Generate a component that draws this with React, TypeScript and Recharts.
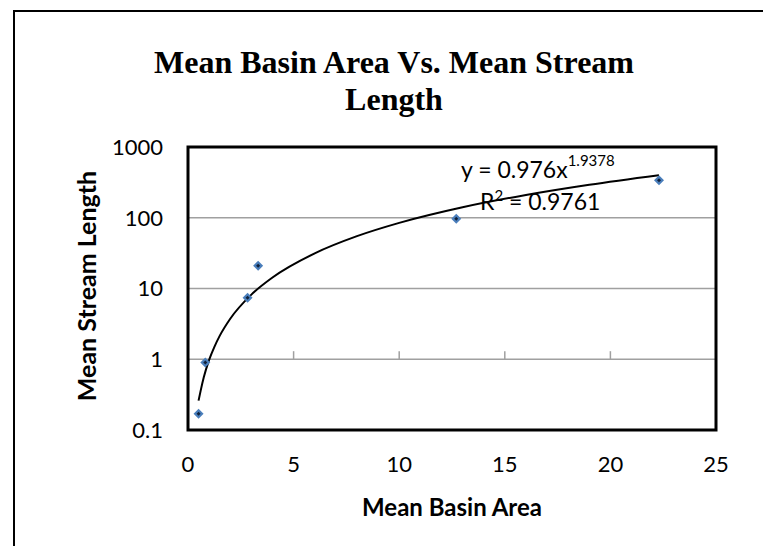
import React from "react";
import {
  CartesianGrid,
  ComposedChart,
  Line,
  ReferenceArea,
  ReferenceLine,
  Scatter,
  XAxis,
  YAxis,
} from "recharts";

// observed basins: mean basin area vs mean stream length
const basinArea = [0.5, 0.82, 2.82, 3.32, 12.7, 22.3];
const streamLength = [0.17, 0.9, 7.4, 21, 97, 340];

// power trendline
const trendArea = [0.5, 0.6, 0.75, 1, 1.25, 1.5, 2, 3, 4, 6, 8, 10, 13, 16, 19, 22.3];
const trendLength = [0.26, 0.36, 0.56, 0.98, 1.5, 2.14, 3.74, 8.2, 14.3, 31.4, 54.9, 84.6, 140.6, 210, 293, 400];

const xTicks = [0, 5, 10, 15, 20, 25];
const yTicks = [0.1, 1, 10, 100, 1000];
const axisTickMarks = [5, 10, 15, 20];

const points = basinArea.map((x, i) => ({ x, y: streamLength[i] }));
const trend = trendArea.map((x, i) => ({ x, y: trendLength[i] }));

const FONT = "Lato, 'Open Sans', sans-serif";

const Diamond = (props: any) => {
  const { cx, cy } = props;
  if (cx == null || cy == null) return null;
  return (
    <g>
      <path d={`M${cx},${cy - 5} L${cx + 5},${cy} L${cx},${cy + 5} L${cx - 5},${cy} Z`} fill="#4A7EBB" />
      <path d={`M${cx},${cy - 2} L${cx + 2},${cy} L${cx},${cy + 2} L${cx - 2},${cy} Z`} fill="#10213a" />
    </g>
  );
};

export default function App() {
  return (
    <div style={{ position: "absolute", left: 0, top: 0, width: 763, height: 546, background: "#fff", overflow: "hidden" }}>
      <div
        style={{
          position: "absolute",
          left: 13,
          top: 10,
          width: 800,
          height: 600,
          borderTop: "2px solid #000",
          borderLeft: "2px solid #000",
        }}
      />
      <div
        style={{
          position: "absolute",
          left: 0,
          top: 44,
          width: 788,
          textAlign: "center",
          fontFamily: "'Liberation Serif', serif",
          fontWeight: "bold",
          fontSize: 32,
          lineHeight: "37px",
        }}
      >
        Mean Basin Area Vs. Mean Stream
        <br />
        Length
      </div>

      <ComposedChart
        width={763}
        height={546}
        margin={{ top: 147, right: 47, bottom: 76, left: 128 }}
        style={{ position: "absolute", left: 0, top: 0 }}
      >
        <CartesianGrid horizontal vertical={false} stroke="#a0a0a0" strokeWidth={1.5} />
        <XAxis
          type="number"
          dataKey="x"
          domain={[0, 25]}
          ticks={xTicks}
          axisLine={false}
          tickLine={false}
          tickSize={0}
          tickMargin={26}
          height={40}
          tick={{ fill: "#000", fontSize: 22, fontFamily: FONT }}
        />
        <YAxis
          type="number"
          dataKey="y"
          scale="log"
          domain={[0.1, 1000]}
          ticks={yTicks}
          allowDataOverflow
          axisLine={false}
          tickLine={false}
          tickSize={0}
          tickMargin={25}
          width={60}
          tick={{ fill: "#000", fontSize: 22, fontFamily: FONT }}
        />
        {axisTickMarks.map((t) => (
          <ReferenceLine
            key={t}
            segment={[
              { x: t, y: 1 },
              { x: t, y: 1.3 },
            ]}
            stroke="#a0a0a0"
            strokeWidth={1.5}
          />
        ))}
        <Line
          data={trend}
          dataKey="y"
          type="monotone"
          stroke="#000"
          strokeWidth={2}
          dot={false}
          isAnimationActive={false}
        />
        <Scatter data={points} dataKey="y" shape={<Diamond />} isAnimationActive={false} />
        <ReferenceArea x1={0} x2={25} y1={0.1} y2={1000} fill="none" stroke="#000" strokeWidth={3} ifOverflow="visible" />
      </ComposedChart>

      <div style={{ position: "absolute", left: 461, top: 155, lineHeight: "28px", fontFamily: FONT, fontSize: 23, whiteSpace: "nowrap" }}>
        y = 0.976x<sup style={{ fontSize: 15, lineHeight: "15px", verticalAlign: "top", position: "relative", top: -2 }}>1.9378</sup>
      </div>
      <div style={{ position: "absolute", left: 480, top: 187, lineHeight: "28px", fontFamily: FONT, fontSize: 23, whiteSpace: "nowrap" }}>
        R<sup style={{ fontSize: 15, lineHeight: "15px", verticalAlign: "top", position: "relative", top: 1 }}>2</sup> = 0.9761
      </div>

      <div
        style={{
          position: "absolute",
          left: 452 - 150,
          top: 492,
          width: 300,
          textAlign: "center",
          fontFamily: FONT,
          fontWeight: "bold",
          fontSize: 24,
        }}
      >
        Mean Basin Area
      </div>
      <div
        style={{
          position: "absolute",
          left: 86 - 150,
          top: 286 - 15,
          width: 300,
          height: 30,
          lineHeight: "30px",
          textAlign: "center",
          fontFamily: FONT,
          fontWeight: "bold",
          fontSize: 25,
          transform: "rotate(-90deg)",
        }}
      >
        Mean Stream Length
      </div>
    </div>
  );
}
